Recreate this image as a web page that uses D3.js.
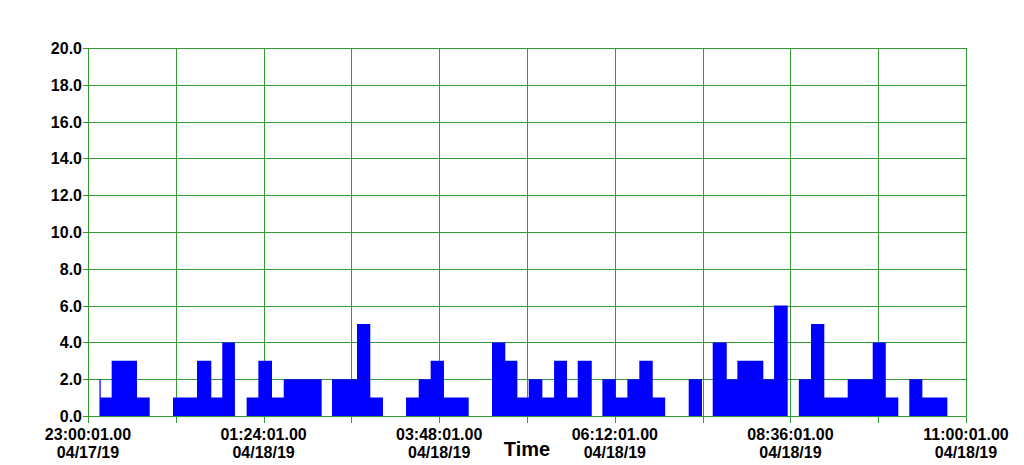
<!DOCTYPE html>
<html>
<head>
<meta charset="utf-8">
<script src="https://cdn.jsdelivr.net/npm/d3@7"></script>
<style>
  body { margin: 0; background: #fff; }
  svg { display: block; font-family: "Liberation Sans", Arial, sans-serif; }
</style>
</head>
<body>
<svg id="svg" width="1024" height="465"></svg>
<script>
// step series: value holds from each time until the next one
var stepTimes = [
  '04/17/19 23:09:25', '04/17/19 23:10:25', '04/17/19 23:19:25', '04/17/19 23:40:13', '04/17/19 23:50:37',
  '04/18/19 00:09:43', '04/18/19 00:29:25', '04/18/19 00:41:07', '04/18/19 00:50:07', '04/18/19 01:00:31',
  '04/18/19 01:10:07', '04/18/19 01:19:43', '04/18/19 01:30:55', '04/18/19 01:40:31', '04/18/19 02:11:37',
  '04/18/19 02:20:07', '04/18/19 02:40:37', '04/18/19 02:51:31', '04/18/19 03:01:55', '04/18/19 03:20:49',
  '04/18/19 03:31:13', '04/18/19 03:41:01', '04/18/19 03:51:55', '04/18/19 04:12:13', '04/18/19 04:31:19',
  '04/18/19 04:42:13', '04/18/19 04:52:07', '04/18/19 05:01:25', '04/18/19 05:12:37', '04/18/19 05:22:13',
  '04/18/19 05:32:49', '04/18/19 05:41:37', '04/18/19 05:53:07', '04/18/19 06:01:49', '04/18/19 06:12:49',
  '04/18/19 06:22:19', '04/18/19 06:32:07', '04/18/19 06:43:07', '04/18/19 06:53:19', '04/18/19 07:12:37',
  '04/18/19 07:23:31', '04/18/19 07:32:19', '04/18/19 07:43:49', '04/18/19 07:52:31', '04/18/19 08:13:49',
  '04/18/19 08:22:37', '04/18/19 08:33:49', '04/18/19 08:42:55', '04/18/19 08:52:55', '04/18/19 09:03:49',
  '04/18/19 09:23:01', '04/18/19 09:43:31', '04/18/19 09:54:13', '04/18/19 10:04:31', '04/18/19 10:13:31',
  '04/18/19 10:24:13', '04/18/19 10:44:43'
];
var stepValues = [
  2, 1, 3, 1, 0,
  1, 3, 1, 4, 0,
  1, 3, 1, 2, 0,
  2, 5, 1, 0, 1,
  2, 3, 1, 0, 4,
  3, 1, 2, 1, 3,
  1, 3, 0, 2, 1,
  2, 3, 1, 0, 2,
  0, 4, 2, 3, 2,
  6, 0, 2, 5, 1,
  2, 4, 1, 0, 2,
  1, 0
];

var yTicks = [0, 2, 4, 6, 8, 10, 12, 14, 16, 18, 20];
var xGridTimes = [
  '04/17/19 23:00:01', '04/18/19 00:12:01', '04/18/19 01:24:01', '04/18/19 02:36:01',
  '04/18/19 03:48:01', '04/18/19 05:00:01', '04/18/19 06:12:01', '04/18/19 07:24:01',
  '04/18/19 08:36:01', '04/18/19 09:48:01', '04/18/19 11:00:01'
];
var xLabelTimes = [
  '04/17/19 23:00:01', '04/18/19 01:24:01', '04/18/19 03:48:01',
  '04/18/19 06:12:01', '04/18/19 08:36:01', '04/18/19 11:00:01'
];
var xTitle = 'Time';

var svg = d3.select('#svg');
var margin = { top: 48, left: 88, right: 58, bottom: 49 };
var innerWidth = 1024 - margin.left - margin.right;
var innerHeight = 465 - margin.top - margin.bottom;
var gridColor = '#339933';

var parse = d3.timeParse('%m/%d/%y %H:%M:%S');
var gridDates = xGridTimes.map(parse);
var labelDates = xLabelTimes.map(parse);
var data = stepTimes.map(function (t, i) { return { t: parse(t), v: stepValues[i] }; });

var xScale = d3.scaleTime()
  .domain([gridDates[0], gridDates[gridDates.length - 1]])
  .range([0, innerWidth]);
var yScale = d3.scaleLinear()
  .domain([0, 20])
  .range([innerHeight, 0]);

var g = svg.append('g')
  .attr('transform', 'translate(' + margin.left + ',' + margin.top + ')');

// grid
g.selectAll('.hgrid')
  .data(yTicks)
  .join('line')
  .attr('class', 'hgrid')
  .attr('x1', -5).attr('x2', innerWidth)
  .attr('y1', d => Math.round(yScale(d)) + 0.5)
  .attr('y2', d => Math.round(yScale(d)) + 0.5)
  .attr('stroke', gridColor)
  .attr('stroke-width', 1);

g.selectAll('.vgrid')
  .data(gridDates)
  .join('line')
  .attr('class', 'vgrid')
  .attr('x1', d => Math.round(xScale(d)) + 0.5)
  .attr('x2', d => Math.round(xScale(d)) + 0.5)
  .attr('y1', 0).attr('y2', innerHeight + 7)
  .attr('stroke', gridColor)
  .attr('stroke-width', 1);

// bars as a step area
var area = d3.area()
  .x(d => xScale(d.t))
  .y0(yScale(0))
  .y1(d => yScale(d.v))
  .curve(d3.curveStepAfter);

g.append('path')
  .datum(data)
  .attr('d', area)
  .attr('fill', '#0000ff');

// baseline over bars
g.append('line')
  .attr('x1', 0).attr('x2', innerWidth)
  .attr('y1', Math.round(yScale(0)) + 0.5)
  .attr('y2', Math.round(yScale(0)) + 0.5)
  .attr('stroke', gridColor);

// y labels
g.selectAll('.ylab')
  .data(yTicks)
  .join('text')
  .attr('class', 'ylab')
  .attr('x', -6)
  .attr('y', d => yScale(d) + 6)
  .attr('text-anchor', 'end')
  .style('font-size', '16px')
  .style('font-weight', 'bold')
  .text(d => d3.format('.1f')(d));

// x labels (two lines, separate text elements)
var fmtTime = d3.timeFormat('%H:%M:%S.00');
var fmtDate = d3.timeFormat('%m/%d/%y');
g.selectAll('.xlab-time')
  .data(labelDates)
  .join('text')
  .attr('class', 'xlab-time')
  .attr('x', d => xScale(d))
  .attr('y', innerHeight + 24)
  .attr('text-anchor', 'middle')
  .style('font-size', '16px')
  .style('font-weight', 'bold')
  .text(d => fmtTime(d));
g.selectAll('.xlab-date')
  .data(labelDates)
  .join('text')
  .attr('class', 'xlab-date')
  .attr('x', d => xScale(d))
  .attr('y', innerHeight + 42)
  .attr('text-anchor', 'middle')
  .style('font-size', '16px')
  .style('font-weight', 'bold')
  .text(d => fmtDate(d));

g.append('text')
  .attr('x', innerWidth / 2)
  .attr('y', innerHeight + 40)
  .attr('text-anchor', 'middle')
  .style('font-size', '20px')
  .style('font-weight', 'bold')
  .text(xTitle);
</script>
</body>
</html>
